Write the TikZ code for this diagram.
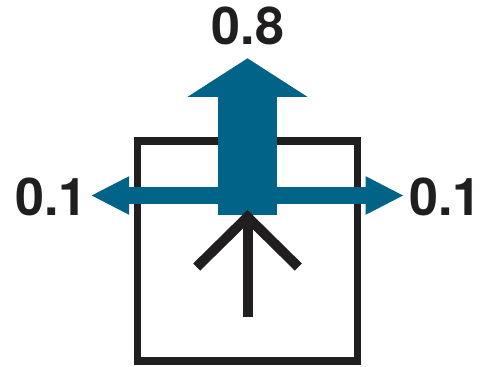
\documentclass[tikz,border=0pt]{standalone}
\usepackage{fontspec}
\setmainfont{TeX Gyre Heros}
\usetikzlibrary{arrows.meta}

\definecolor{flowblue}{RGB}{0,99,135}
\definecolor{ink}{RGB}{32,30,30}

\tikzset{
    share/.style={font=\fontsize{52}{60}\selectfont\bfseries, text=ink, inner sep=0pt},
    mainflow/.style={flowblue, line width=59pt, -{Triangle[width=118pt,length=38.5pt]}},
    sideflow/.style={flowblue, line width=17.3pt, {Triangle[width=35.6pt,length=38.5pt]}-{Triangle[width=35.6pt,length=38.5pt]}},
}

\begin{document}
\begin{tikzpicture}[x=1pt, y=-1pt]
    \useasboundingbox (0,0) rectangle (494,366);

    % box
    \draw[ink, line width=7.5pt] (137.5,141) rectangle (357.5,361);

    % flow ends
    \coordinate (base) at (247.5,215);
    \coordinate (top) at (247.5,58.3);
    \coordinate (west) at (90.7,195.5);
    \coordinate (east) at (404,195.5);

    \draw[sideflow] (west) -- (east);
    \draw[mainflow] (base) -- (top);

    % incoming direction
    \coordinate (apex) at (247.5,217);
    \coordinate (foot) at (247.5,317.3);
    \draw[ink, line width=10pt, miter limit=4] (196.7,267) -- (apex) -- (298.3,267);
    \draw[ink, line width=10pt] (apex) -- (foot);

    % fractions
    \node[share] (ahead) at (248,26) {0.8};
    \foreach \side/\xpos in {left/51.5, right/445.5} {
        \node[share] (\side) at (\xpos,197) {0.1};
    }
\end{tikzpicture}
\end{document}
